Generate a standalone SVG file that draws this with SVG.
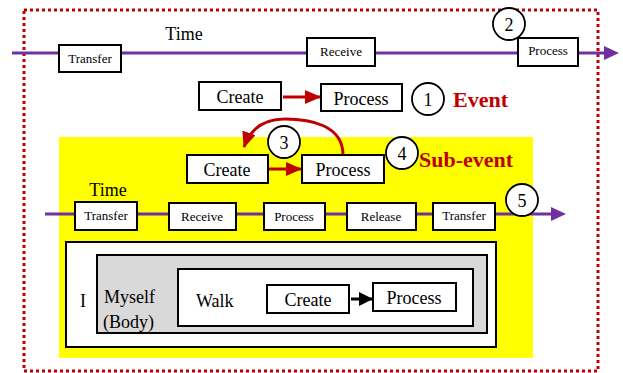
<svg xmlns="http://www.w3.org/2000/svg" width="623" height="373" viewBox="0 0 623 373">
<defs>
<marker id="ra" markerWidth="16" markerHeight="14" refX="15" refY="7" orient="auto" markerUnits="userSpaceOnUse"><path d="M0,0 L16,7 L0,14 z" fill="#C00000"/></marker>
<marker id="ba" markerWidth="14" markerHeight="14" refX="13" refY="7" orient="auto" markerUnits="userSpaceOnUse"><path d="M0,0 L14,7 L0,14 z" fill="#000"/></marker>
</defs>
<rect x="24" y="10" width="574" height="361" fill="none" stroke="#C00000" stroke-width="3" stroke-dasharray="3,3"/>
<rect x="59" y="137" width="474" height="221" fill="#FFFF00"/>
<g font-family="Liberation Serif" font-size="18">
<g id="i"><rect x="66" y="242" width="430" height="105" fill="#fff" stroke="#000" stroke-width="2"/><text x="80" y="307">I</text></g>
<g id="myself"><rect x="97" y="255" width="390" height="78" fill="#D9D9D9" stroke="#000" stroke-width="2"/><text x="104" y="303">Myself</text><text x="103" y="328">(Body)</text></g>
<g id="walk"><rect x="178" y="269" width="295" height="57" fill="#fff" stroke="#000" stroke-width="2"/><text x="196" y="307">Walk</text></g>
</g>
<g id="connectors">
<line x1="12" y1="53" x2="604" y2="53" stroke="#7030A0" stroke-width="3"/>
<path d="M604,46 L619,53 L604,60 z" fill="#7030A0"/>
<line x1="45" y1="214" x2="552" y2="214" stroke="#7030A0" stroke-width="3"/>
<path d="M551,207 L566,214 L551,221 z" fill="#7030A0"/>
<line x1="283" y1="97" x2="320" y2="97" stroke="#C00000" stroke-width="3" marker-end="url(#ra)"/>
<line x1="266" y1="169" x2="301" y2="169" stroke="#C00000" stroke-width="3" marker-end="url(#ra)"/>
<path d="M343,155 C343,125 310,119 285,119 C262,119 250,130 244,147" fill="none" stroke="#C00000" stroke-width="3" marker-end="url(#ra)"/>
<line x1="351" y1="299" x2="372" y2="299" stroke="#000" stroke-width="3" marker-end="url(#ba)"/>
</g>
<g font-family="Liberation Serif" font-size="18" text-anchor="middle">
<text x="184" y="40">Time</text>
<text x="108" y="196">Time</text>
<g fill="#fff" stroke="#000" stroke-width="2">
<rect x="59" y="45" width="62" height="27"/>
<rect x="307" y="38" width="68" height="28"/>
<rect x="518" y="38" width="60" height="28"/>
<rect x="199" y="82" width="82" height="28"/>
<rect x="321" y="84" width="81" height="27"/>
<rect x="187" y="155" width="81" height="28"/>
<rect x="302" y="155" width="82" height="28"/>
<rect x="75" y="202" width="62" height="28"/>
<rect x="169" y="203" width="67" height="27"/>
<rect x="264" y="203" width="61" height="27"/>
<rect x="347" y="203" width="69" height="27"/>
<rect x="433" y="203" width="62" height="27"/>
<rect x="267" y="285" width="82" height="28"/>
<rect x="373" y="283" width="83" height="28"/>
</g>
<g fill="#fff" stroke="#000" stroke-width="1.8">
<circle cx="509" cy="24" r="16"/>
<circle cx="428" cy="99" r="16"/>
<circle cx="284" cy="142" r="16"/>
<circle cx="402" cy="153" r="16"/>
<circle cx="522" cy="200" r="16"/>
</g>
<g id="transfer1" font-size="13"><text x="90" y="63">Transfer</text></g>
<g id="receive1" font-size="13"><text x="341" y="56">Receive</text></g>
<g id="process1" font-size="13"><text x="548" y="55">Process</text></g>
<g id="n2"><text x="509" y="31">2</text></g>
<g id="create1"><text x="240" y="103">Create</text></g>
<g id="process2"><text x="361" y="105">Process</text></g>
<g id="n1"><text x="428" y="106">1</text></g>
<g id="create2"><text x="227" y="176">Create</text></g>
<g id="process3"><text x="343" y="176">Process</text></g>
<g id="n3"><text x="284" y="149">3</text></g>
<g id="n4"><text x="402" y="160">4</text></g>
<g id="transfer2" font-size="13"><text x="106" y="220">Transfer</text></g>
<g id="receive2" font-size="13"><text x="202" y="221">Receive</text></g>
<g id="process4" font-size="13"><text x="294" y="221">Process</text></g>
<g id="release" font-size="13"><text x="381" y="221">Release</text></g>
<g id="transfer3" font-size="13"><text x="464" y="220">Transfer</text></g>
<g id="n5"><text x="522" y="207">5</text></g>
<g id="create3"><text x="308" y="306">Create</text></g>
<g id="process5"><text x="414" y="304">Process</text></g>
</g>
<g font-family="Liberation Serif" font-size="22" font-weight="bold" fill="#C00000">
<text x="453" y="107">Event</text>
<text x="419" y="167">Sub-event</text>
</g>
</svg>
